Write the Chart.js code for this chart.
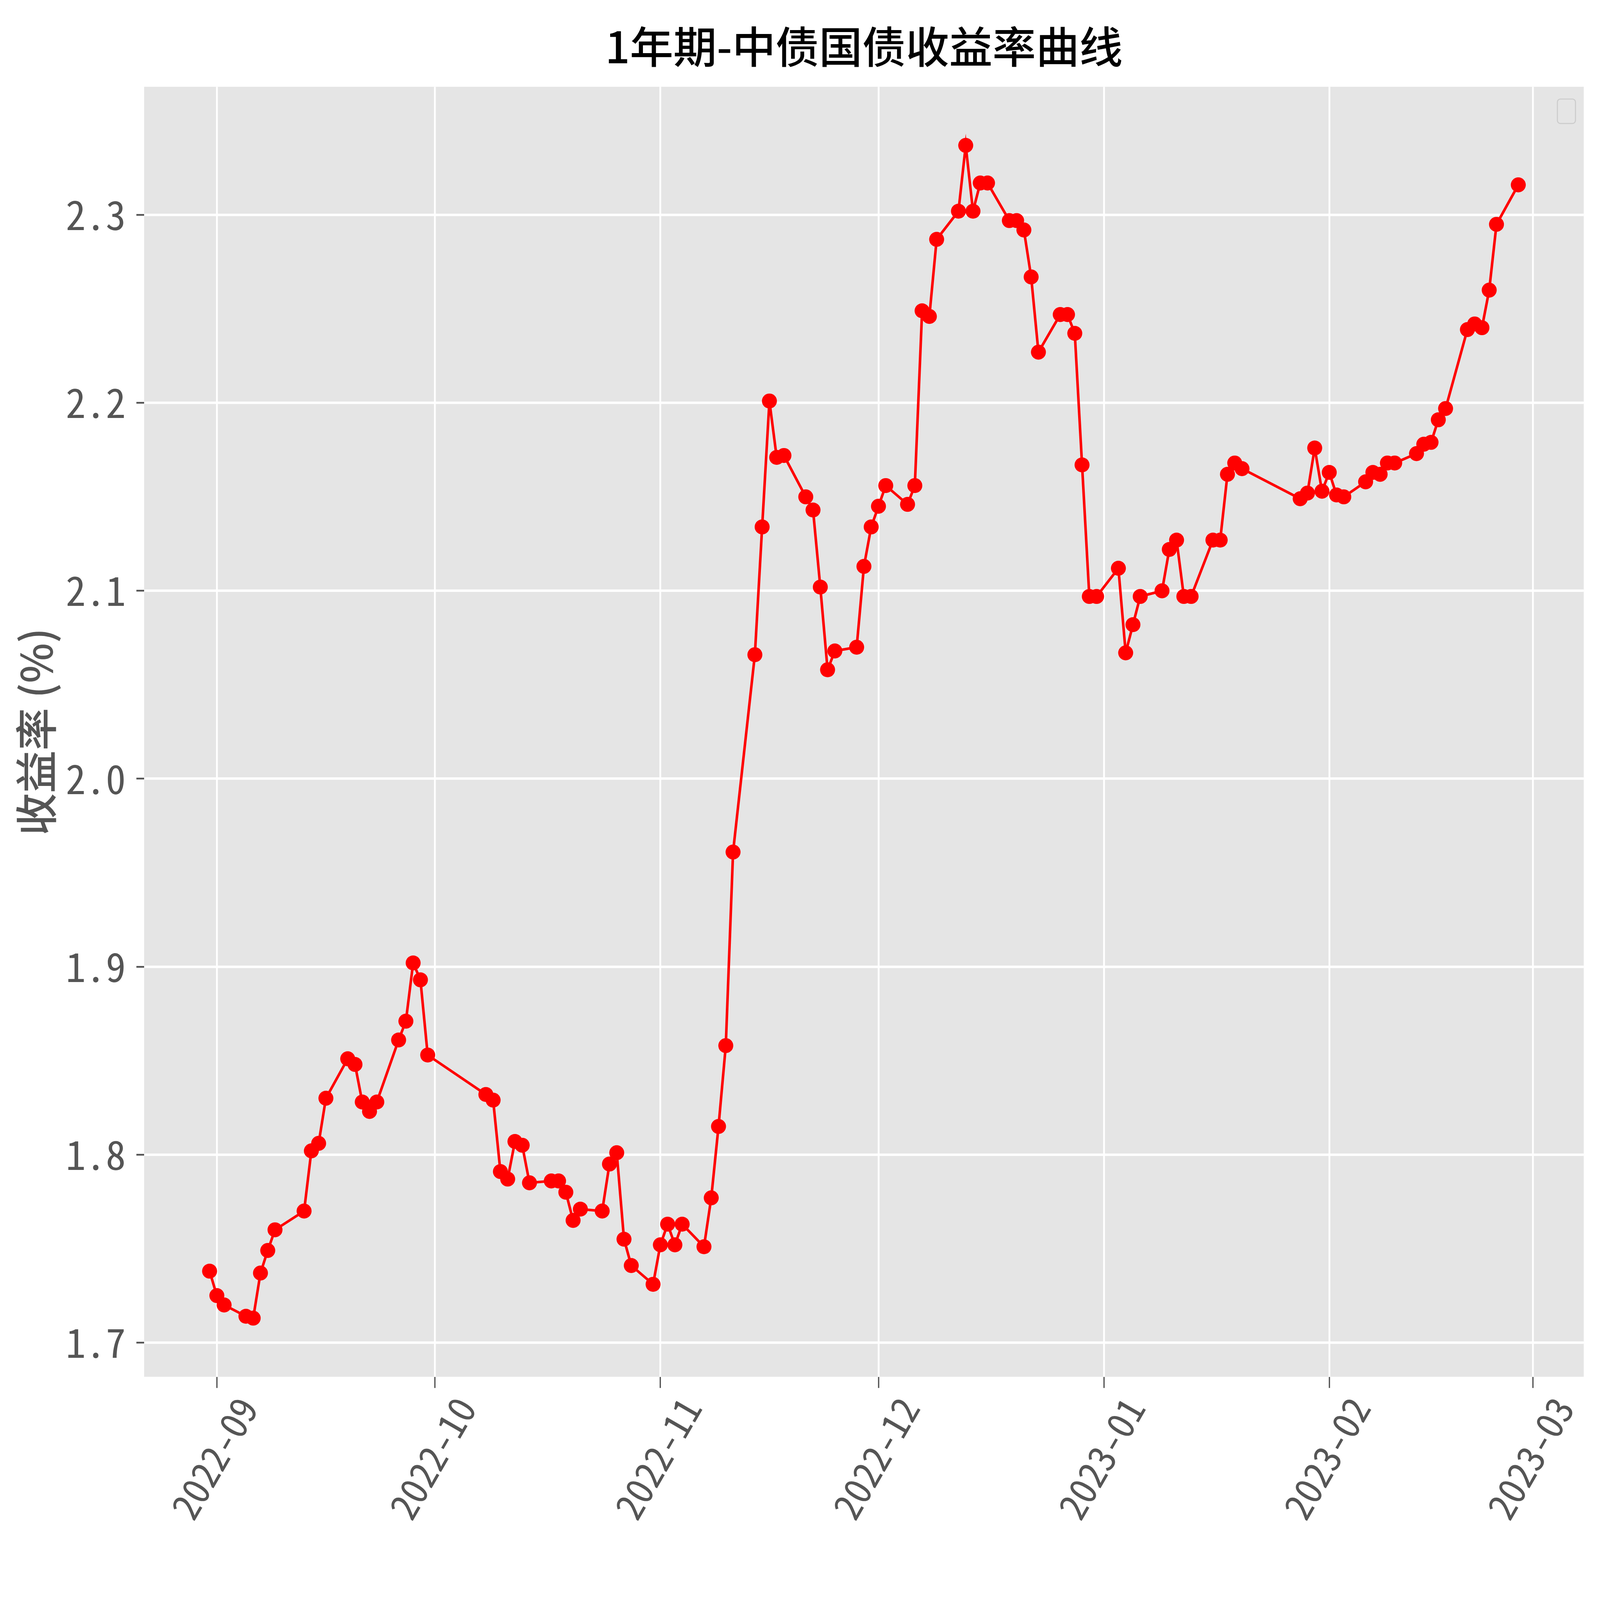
<!DOCTYPE html>
<html>
<head>
<meta charset="utf-8">
<title>1年期-中债国债收益率曲线</title>
<script src="https://cdn.jsdelivr.net/npm/chart.js@4/dist/chart.umd.min.js"></script>
<style>
    html, body { margin: 0; padding: 0; background: #ffffff; overflow: hidden; }
    #wrap { position: relative; width: 100vw; height: 100vh; }
</style>
</head>
<body>
<div id="wrap"><canvas id="yieldChart"></canvas></div>
<script>
// Trading days and 1-year yields (%)
const dates = [
    '2022-08-31', '2022-09-01', '2022-09-02', '2022-09-05', '2022-09-06', '2022-09-07', '2022-09-08', '2022-09-09',
    '2022-09-13', '2022-09-14', '2022-09-15', '2022-09-16', '2022-09-19', '2022-09-20', '2022-09-21', '2022-09-22',
    '2022-09-23', '2022-09-26', '2022-09-27', '2022-09-28', '2022-09-29', '2022-09-30',
    '2022-10-08', '2022-10-09', '2022-10-10', '2022-10-11', '2022-10-12', '2022-10-13', '2022-10-14', '2022-10-17',
    '2022-10-18', '2022-10-19', '2022-10-20', '2022-10-21', '2022-10-24', '2022-10-25', '2022-10-26', '2022-10-27',
    '2022-10-28', '2022-10-31',
    '2022-11-01', '2022-11-02', '2022-11-03', '2022-11-04', '2022-11-07', '2022-11-08', '2022-11-09', '2022-11-10',
    '2022-11-11', '2022-11-14', '2022-11-15', '2022-11-16', '2022-11-17', '2022-11-18', '2022-11-21', '2022-11-22',
    '2022-11-23', '2022-11-24', '2022-11-25', '2022-11-28', '2022-11-29', '2022-11-30',
    '2022-12-01', '2022-12-02', '2022-12-05', '2022-12-06', '2022-12-07', '2022-12-08', '2022-12-09', '2022-12-12',
    '2022-12-13', '2022-12-14', '2022-12-15', '2022-12-16', '2022-12-19', '2022-12-20', '2022-12-21', '2022-12-22',
    '2022-12-23', '2022-12-26', '2022-12-27', '2022-12-28', '2022-12-29', '2022-12-30', '2022-12-31',
    '2023-01-03', '2023-01-04', '2023-01-05', '2023-01-06', '2023-01-09', '2023-01-10', '2023-01-11', '2023-01-12',
    '2023-01-13', '2023-01-16', '2023-01-17', '2023-01-18', '2023-01-19', '2023-01-20', '2023-01-28', '2023-01-29',
    '2023-01-30', '2023-01-31',
    '2023-02-01', '2023-02-02', '2023-02-03', '2023-02-06', '2023-02-07', '2023-02-08', '2023-02-09', '2023-02-10',
    '2023-02-13', '2023-02-14', '2023-02-15', '2023-02-16', '2023-02-17', '2023-02-20', '2023-02-21', '2023-02-22',
    '2023-02-23', '2023-02-24', '2023-02-27'
];

const yields = [
    1.738, 1.725, 1.720, 1.714, 1.713, 1.737, 1.749, 1.760,
    1.770, 1.802, 1.806, 1.830, 1.851, 1.848, 1.828, 1.823,
    1.828, 1.861, 1.871, 1.902, 1.893, 1.853,
    1.832, 1.829, 1.791, 1.787, 1.807, 1.805, 1.785, 1.786,
    1.786, 1.780, 1.765, 1.771, 1.770, 1.795, 1.801, 1.755,
    1.741, 1.731,
    1.752, 1.763, 1.752, 1.763, 1.751, 1.777, 1.815, 1.858,
    1.961, 2.066, 2.134, 2.201, 2.171, 2.172, 2.150, 2.143,
    2.102, 2.058, 2.068, 2.070, 2.113, 2.134,
    2.145, 2.156, 2.146, 2.156, 2.249, 2.246, 2.287, 2.302,
    2.337, 2.302, 2.317, 2.317, 2.297, 2.297, 2.292, 2.267,
    2.227, 2.247, 2.247, 2.237, 2.167, 2.097, 2.097,
    2.112, 2.067, 2.082, 2.097, 2.100, 2.122, 2.127, 2.097,
    2.097, 2.127, 2.127, 2.162, 2.168, 2.165, 2.149, 2.152,
    2.176, 2.153,
    2.163, 2.151, 2.150, 2.158, 2.163, 2.162, 2.168, 2.168,
    2.173, 2.178, 2.179, 2.191, 2.197, 2.239, 2.242, 2.240,
    2.260, 2.295, 2.316
];

// Axis ticks
const xTickDates = ['2022-09-01', '2022-10-01', '2022-11-01', '2022-12-01', '2023-01-01', '2023-02-01', '2023-03-01'];
const xTickLabels = ['2022-09', '2022-10', '2022-11', '2022-12', '2023-01', '2023-02', '2023-03'];
const yTicks = [1.7, 1.8, 1.9, 2.0, 2.1, 2.2, 2.3];

const chartTitle = '1年期-中债国债收益率曲线';
const yAxisTitle = '收益率 (%)';

const monoFont = '"Noto Sans Mono CJK SC", "Noto Sans CJK SC", monospace';
const cjkFont = '"Noto Sans CJK SC", "Noto Sans Mono CJK SC", sans-serif';

// sizes below were measured on the 6194x4573 picture; scale them to the real window
const SX = window.innerWidth / 6194;
const SY = window.innerHeight / 4573;
const px = v => v * SX;   // horizontal sizes and fonts
const py = v => v * SY;   // vertical sizes

// date string -> day number (UTC)
function dayNumber(s) {
    const p = s.split('-').map(Number);
    return Date.UTC(p[0], p[1] - 1, p[2]) / 86400000;
}

// matplotlib-like 5% margins around the data
function paddedRange(values) {
    const lo = Math.min.apply(null, values);
    const hi = Math.max.apply(null, values);
    const m = (hi - lo) * 0.05;
    return [lo - m, hi + m];
}

const points = dates.map((d, i) => ({ x: dayNumber(d), y: yields[i] }));
const xRange = paddedRange(points.map(p => p.x));
const yRange = paddedRange(yields);

// grey panel behind the plot, ggplot style
const panelBackground = {
    id: 'panelBackground',
    beforeDraw(chart) {
        const a = chart.chartArea;
        const ctx = chart.ctx;
        ctx.save();
        ctx.fillStyle = '#E5E5E5';
        ctx.fillRect(a.left, a.top, a.right - a.left, a.bottom - a.top);
        ctx.restore();
    }
};

// title centred over the plot area (not the whole canvas)
const axesTitle = {
    id: 'axesTitle',
    afterDraw(chart) {
        const a = chart.chartArea;
        const ctx = chart.ctx;
        ctx.save();
        ctx.fillStyle = '#000000';
        ctx.font = '500 ' + px(168) + 'px ' + cjkFont;
        ctx.textAlign = 'center';
        ctx.textBaseline = 'middle';
        ctx.fillText(chartTitle, (a.left + a.right) / 2, py(134));
        ctx.restore();
    }
};

// empty legend frame (the series has no label)
const emptyLegend = {
    id: 'emptyLegend',
    afterDraw(chart) {
        const a = chart.chartArea;
        const ctx = chart.ctx;
        const w = px(70), h = py(70), r = px(12);
        const x = a.right - px(32) - w, y = a.top + py(35);
        ctx.save();
        ctx.beginPath();
        ctx.roundRect(x, y, w, h, r);
        ctx.fillStyle = 'rgba(229,229,229,0.8)';
        ctx.fill();
        ctx.lineWidth = px(4);
        ctx.strokeStyle = '#CCCCCC';
        ctx.stroke();
        ctx.restore();
    }
};

document.addEventListener('DOMContentLoaded', function() {
    const ctx = document.getElementById('yieldChart');
    new Chart(ctx, {
        type: 'line',
        data: {
            datasets: [{
                data: points,
                borderColor: '#FF0000',
                backgroundColor: '#FF0000',
                borderWidth: px(10),
                pointRadius: px(29),
                pointBorderWidth: 0,
                pointBackgroundColor: '#FF0000',
                tension: 0,
                fill: false
            }]
        },
        options: {
            responsive: true,
            maintainAspectRatio: false,
            animation: false,
            layout: {
                padding: { left: 0, right: px(63), top: py(248), bottom: 0 }
            },
            plugins: {
                legend: { display: false },
                tooltip: { enabled: false },
                title: { display: false }
            },
            scales: {
                x: {
                    type: 'linear',
                    min: xRange[0],
                    max: xRange[1],
                    afterBuildTicks: function(scale) {
                        scale.ticks = xTickDates.map(d => ({ value: dayNumber(d) }));
                    },
                    afterFit: function(scale) {
                        scale.height = py(638);
                    },
                    ticks: {
                        autoSkip: false,
                        minRotation: 60,
                        maxRotation: 60,
                        labelOffset: px(118),
                        padding: py(5),
                        color: '#555555',
                        font: { family: monoFont, size: px(146), weight: 500 },
                        callback: function(value, index) {
                            return xTickLabels[index];
                        }
                    },
                    grid: {
                        color: '#FFFFFF',
                        lineWidth: px(7),
                        tickColor: '#555555',
                        tickWidth: px(5),
                        tickLength: py(32)
                    },
                    border: { display: false }
                },
                y: {
                    type: 'linear',
                    min: yRange[0],
                    max: yRange[1],
                    afterBuildTicks: function(scale) {
                        scale.ticks = yTicks.map(v => ({ value: v }));
                    },
                    afterFit: function(scale) {
                        scale.width = px(558);
                    },
                    ticks: {
                        padding: px(41),
                        color: '#555555',
                        font: { family: monoFont, size: px(155), weight: 500 },
                        callback: function(value) {
                            return value.toFixed(1);
                        }
                    },
                    grid: {
                        color: '#FFFFFF',
                        lineWidth: py(7),
                        tickColor: '#555555',
                        tickWidth: py(5),
                        tickLength: px(30)
                    },
                    border: { display: false },
                    title: {
                        display: true,
                        text: yAxisTitle,
                        color: '#555555',
                        font: { family: cjkFont, size: px(165), weight: 500, lineHeight: 1.2 },
                        padding: { top: px(41), bottom: 0 }
                    }
                }
            }
        },
        plugins: [panelBackground, axesTitle, emptyLegend]
    });
});
</script>
</body>
</html>
